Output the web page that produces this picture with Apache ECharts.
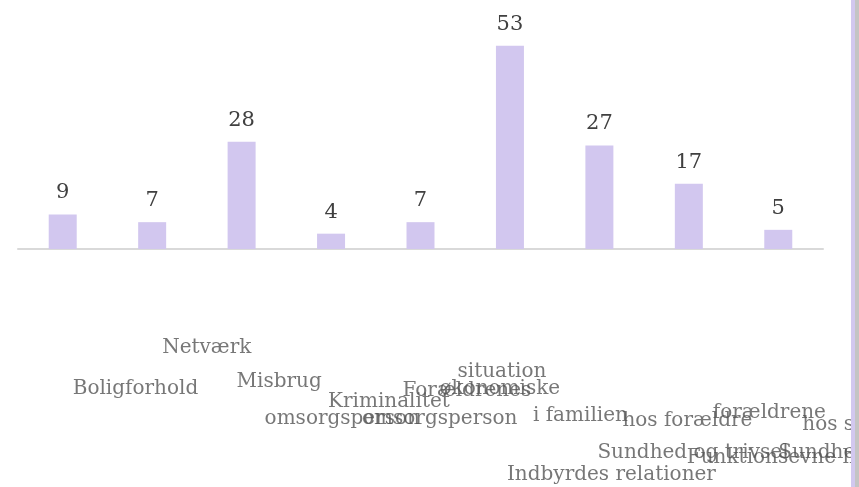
<!DOCTYPE html>
<html>
<head>
<meta charset="utf-8">
<script src="https://cdn.jsdelivr.net/npm/echarts@6/dist/echarts.min.js"></script>
<style>
  html, body { margin: 0; padding: 0; background: #fff; }
  #chart { width: 859px; height: 487px; }
</style>
</head>
<body>
<div id="chart"></div>
<script>
// data
const categories = [
  'Boligforhold',
  'Netværk',
  'Misbrug omsorgsperson',
  'Kriminalitet omsorgsperson',
  'Forældrenes økonomiske situation',
  'Indbyrdes relationer i familien',
  'Sundhed og trivsel hos forældre',
  'Funktionsevne hos forældrene',
  'Sundhed og trivsel hos søskende'
]
const values = [9, 7, 28, 4, 7, 53, 27, 17, 5]

// the category text, line by line, as it falls in the picture
const labelLines = [
  ['Boligforhold'],
  ['Netværk'],
  ['Misbrug', 'omsorgsperson'],
  ['Kriminalitet', 'omsorgsperson'],
  ['Forældrenes', 'økonomiske', 'situation'],
  ['Indbyrdes relationer', 'i familien'],
  ['Sundhed og trivsel', 'hos forældre'],
  ['Funktionsevne hos', 'forældrene'],
  ['Sundhed og trivsel', 'hos søskende']
]
// where each line sits, relative to its category on the axis (layout only)
const labelShift = [
  [[10, 140]],
  [[10, 99]],
  [[-5, 133], [23, 170]],
  [[-3, 153], [31, 170]],
  [[-18, 142], [19, 140], [37, 123]],
  [[-3, 226], [23, 167]],
  [[-2, 204], [23, 172]],
  [[-2, 209], [24, 164]],
  [[0, 204], [24, 176]]
]

const serif = 'DejaVu Serif'

let labelData = []
for (let i = 0; i < labelLines.length; i++) {
  for (let j = 0; j < labelLines[i].length; j++) {
    labelData.push({
      value: [i, 0],
      label: {
        formatter: labelLines[i][j],
        position: labelShift[i][j]
      }
    })
  }
}

let myChart = echarts.init(document.getElementById('chart'))
let option = {
  animation: false,
  grid: { left: 18, right: 36, top: 19, bottom: 238 },
  xAxis: {
    type: 'category',
    data: categories,
    axisLine: { show: true, lineStyle: { color: '#d9d9d9', width: 2 } },
    axisTick: { show: false },
    axisLabel: { show: false },
    splitLine: { show: false }
  },
  yAxis: {
    type: 'value',
    min: 0,
    max: 60,
    show: false
  },
  graphic: [
    { type: 'rect', z: 100, shape: { x: 851, y: 0, width: 4, height: 487 }, style: { fill: '#d2c8ef' } },
    { type: 'rect', z: 100, shape: { x: 855, y: 0, width: 4, height: 487 }, style: { fill: '#c4c4c4' } }
  ],
  series: [
    {
      type: 'bar',
      data: values,
      barWidth: 28,
      itemStyle: { color: '#d2c7ef' },
      label: {
        show: true,
        position: 'top',
        distance: 11,
        color: '#404040',
        fontFamily: serif,
        fontSize: 21
      }
    },
    {
      type: 'scatter',
      data: labelData,
      symbolSize: 0,
      silent: true,
      clip: false,
      label: {
        show: true,
        align: 'left',
        verticalAlign: 'middle',
        color: '#555555',
        fontFamily: serif,
        fontSize: 20
      }
    }
  ]
}
myChart.setOption(option)
</script>
</body>
</html>
